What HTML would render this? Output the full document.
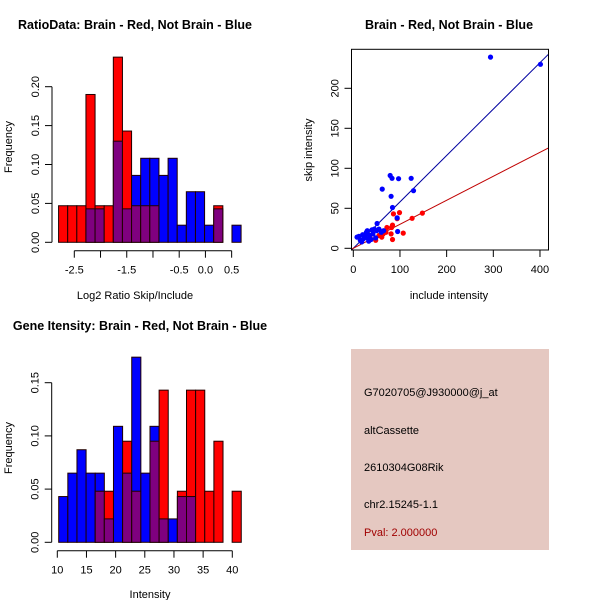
<!DOCTYPE html>
<html><head><meta charset="utf-8"><style>
body{margin:0;background:#fff}
svg{display:block;font-family:"Liberation Sans",sans-serif}
</style></head><body>
<svg id="s" width="600" height="600" viewBox="0 0 600 600" xmlns="http://www.w3.org/2000/svg">
<rect width="600" height="600" fill="#fff"/>
<!-- titles -->
<text x="135" y="29" font-size="12.5" font-weight="bold" text-anchor="middle">RatioData: Brain - Red, Not Brain - Blue</text>
<text x="449" y="29" font-size="12.5" font-weight="bold" text-anchor="middle">Brain - Red, Not Brain - Blue</text>
<text x="140" y="330" font-size="12.5" font-weight="bold" text-anchor="middle">Gene Itensity: Brain - Red, Not Brain - Blue</text>
<text x="135" y="299" font-size="11" text-anchor="middle">Log2 Ratio Skip/Include</text>
<text x="150" y="598" font-size="11" text-anchor="middle">Intensity</text>
<text x="449" y="299" font-size="11" text-anchor="middle">include intensity</text>
<text transform="translate(12,147) rotate(-90)" font-size="11" text-anchor="middle">Frequency</text>
<text transform="translate(12,448) rotate(-90)" font-size="11" text-anchor="middle">Frequency</text>
<text transform="translate(312,150) rotate(-90)" font-size="11" text-anchor="middle">skip intensity</text>
<g id="h1"></g>
<g id="h2"></g>
<g id="sc"></g>
<g>
<rect x="351" y="349" width="198" height="201" fill="#e5c8c1"/>
<text x="364" y="396" font-size="11">G7020705@J930000@j_at</text>
<text x="364" y="434" font-size="11">altCassette</text>
<text x="364" y="471" font-size="11">2610304G08Rik</text>
<text x="364" y="508" font-size="11">chr2.15245-1.1</text>
<text x="364" y="536" font-size="11" fill="#a00000">Pval: 2.000000</text>
</g>
</svg>
<script>
// Ratio histogram data
const ratioBinStart = -2.80;
const ratioBinWidth = 0.174;
const ratioRed  = [0.047,0.047,0.047,0.19,0.047,0.047,0.238,0.143,0.047,0.047,0.047,0,0,0,0,0,0,0.047,0,0];
const ratioBlue = [0,0,0,0.043,0.043,0,0.13,0.043,0.086,0.108,0.108,0.086,0.108,0.022,0.065,0.065,0.022,0.043,0,0.022];
const ratioXTicks = [-2.5,-2,-1.5,-1,-0.5,0,0.5];
const ratioXLabels = ["-2.5","","-1.5","","-0.5","0.0","0.5"];
const ratioYTicks = [0,0.05,0.10,0.15,0.20];
const ratioYLabels = ["0.00","0.05","0.10","0.15","0.20"];
// Intensity histogram data
const intBinStart = 10.24;
const intBinWidth = 1.565;
const intRed  = [0,0,0,0,0.048,0.048,0,0.095,0.048,0,0.095,0.143,0,0.048,0.143,0.143,0.048,0.095,0,0.048];
const intBlue = [0.043,0.065,0.087,0.065,0.065,0.022,0.109,0.065,0.174,0.065,0.109,0.022,0.022,0.043,0.043,0,0,0,0,0];
const intXTicks = [10,15,20,25,30,35,40];
const intXLabels = ["10","15","20","25","30","35","40"];
const intYTicks = [0,0.05,0.10,0.15];
const intYLabels = ["0.00","0.05","0.10","0.15"];
// Scatter data
const blueX = [294,401,79,83,97,124,62,129,81,84,94,95,51,8,12,15,18,20,22,25,28,30,33,35,38,40,42,45,48,50,55,60,65,27,32];
const blueY = [239,230,91,87.5,87,87.5,74,72,65,51,38,21,31,14,15,10,8,17,12,14,20,22,9,16,11,23,18,24,13,22,24,20,22,18,12];
const redX = [86,99,148,126,107,84,84,82,81,72,64,61,48,94,55,70,37];
const redY = [43,44.6,44,37.5,19,11,29,26,18,26,18,14,10,37,16,20,12];
const blueSlope = 0.58;
const redSlope = 0.30;
const scXTicks = [0,100,200,300,400];
const scYTicks = [0,50,100,150,200];

const NS = "http://www.w3.org/2000/svg";
function mk(parent, tag, attrs){ const e=document.createElementNS(NS,tag); for(const k in attrs) e.setAttribute(k,attrs[k]); parent.appendChild(e); return e; }

function drawHist(g, binStart, binW, red, blue, xs, ys, axisX, axisY, xTicks, xLabels, yTicks, yLabels, prefix){
  for(let i=0;i<red.length;i++){
    const a=binStart+i*binW, b=a+binW;
    const x1=xs(a), x2=xs(b);
    const r=red[i], bl=blue[i];
    const hi=Math.max(r,bl), lo=Math.min(r,bl);
    if(hi>0){
      const e=mk(g,'rect',{x:x1,y:ys(hi),width:x2-x1,height:ys(0)-ys(hi),fill:r>=bl?'#ff0000':'#0000ff',stroke:'#200000','stroke-width':1});
      
      
    }
    if(lo>0){
      const e=mk(g,'rect',{x:x1,y:ys(lo),width:x2-x1,height:ys(0)-ys(lo),fill:'#7f007f',stroke:'#200000','stroke-width':1});
      
      
    }
  }
  // x axis
  const xa=mk(g,'g',{});
  
  
  mk(xa,'line',{x1:xs(xTicks[0]),x2:xs(xTicks[xTicks.length-1]),y1:axisY,y2:axisY,stroke:'#000'});
  xTicks.forEach((t,i)=>{
    mk(xa,'line',{x1:xs(t),x2:xs(t),y1:axisY,y2:axisY+7,stroke:'#000'});
    if(xLabels[i]){ const tx=mk(xa,'text',{x:xs(t),y:axisY+23,'font-size':11,'text-anchor':'middle'}); tx.textContent=xLabels[i]; }
  });
  // y axis
  const ya=mk(g,'g',{});
  
  
  mk(ya,'line',{x1:axisX,x2:axisX,y1:ys(yTicks[0]),y2:ys(yTicks[yTicks.length-1]),stroke:'#000'});
  yTicks.forEach((t,i)=>{
    mk(ya,'line',{x1:axisX-7,x2:axisX,y1:ys(t),y2:ys(t),stroke:'#000'});
    const tx=mk(ya,'text',{transform:`translate(${axisX-13},${ys(t)}) rotate(-90)`,'font-size':11,'text-anchor':'middle'}); tx.textContent=yLabels[i];
  });
}

// Ratio histogram scales
const rxs = v => 74.3 + (v+2.5)*52.45;
const rys = v => 242.3 - v*(242.3-86.7)/0.20;
drawHist(document.getElementById('h1'), ratioBinStart, ratioBinWidth, ratioRed, ratioBlue, rxs, rys, 52, 250.7, ratioXTicks, ratioXLabels, ratioYTicks, ratioYLabels, 'ratio');

const ixs = v => 57.3 + (v-10)*5.833;
const iys = v => 542.3 - v*(542.3-382.7)/0.15;
drawHist(document.getElementById('h2'), intBinStart, intBinWidth, intRed, intBlue, ixs, iys, 51.7, 550.7, intXTicks, intXLabels, intYTicks, intYLabels, 'intensity');

// Scatter
const sc=document.getElementById('sc');
const sx = v => 353.3 + v*0.4667;
const sy = v => 248.3 - v*0.8;
const box={x:351.5,y:49.3,w:197,h:200.7};
mk(sc,'clipPath',{id:'scclip'}).appendChild(Object.assign(document.createElementNS(NS,'rect'),{})).setAttribute('x',box.x);
const cp=document.getElementById('scclip').firstChild;
cp.setAttribute('y',box.y); cp.setAttribute('width',box.w); cp.setAttribute('height',box.h);
const xMin=(box.x-353.3)/0.4667, xMax=(box.x+box.w-353.3)/0.4667;
const lb=mk(sc,'line',{x1:sx(xMin),y1:sy(xMin*blueSlope),x2:sx(xMax),y2:sy(xMax*blueSlope),stroke:'#0000a0','stroke-width':1,'clip-path':'url(#scclip)'});


const lr=mk(sc,'line',{x1:sx(xMin),y1:sy(xMin*redSlope),x2:sx(xMax),y2:sy(xMax*redSlope),stroke:'#c00000','stroke-width':1,'clip-path':'url(#scclip)'});


redX.forEach((v,i)=>{
  const c=mk(sc,'circle',{cx:sx(v),cy:sy(redY[i]),r:2.6,fill:'#ff0000'});
  
  
});
blueX.forEach((v,i)=>{
  const c=mk(sc,'circle',{cx:sx(v),cy:sy(blueY[i]),r:2.6,fill:'#0000ff'});
  
  
});
const bx=mk(sc,'rect',{x:box.x,y:box.y,width:box.w,height:box.h,fill:'none',stroke:'#000'});


const sxa=mk(sc,'g',{});


scXTicks.forEach(t=>{
  mk(sxa,'line',{x1:sx(t),x2:sx(t),y1:box.y+box.h,y2:box.y+box.h+7,stroke:'#000'});
  const tx=mk(sxa,'text',{x:sx(t),y:box.y+box.h+23,'font-size':11,'text-anchor':'middle'}); tx.textContent=t;
});
const sya=mk(sc,'g',{});


scYTicks.forEach(t=>{
  mk(sya,'line',{x1:box.x-7,x2:box.x,y1:sy(t),y2:sy(t),stroke:'#000'});
  const tx=mk(sya,'text',{transform:`translate(${box.x-13},${sy(t)}) rotate(-90)`,'font-size':11,'text-anchor':'middle'}); tx.textContent=t;
});
</script>
</body></html>
